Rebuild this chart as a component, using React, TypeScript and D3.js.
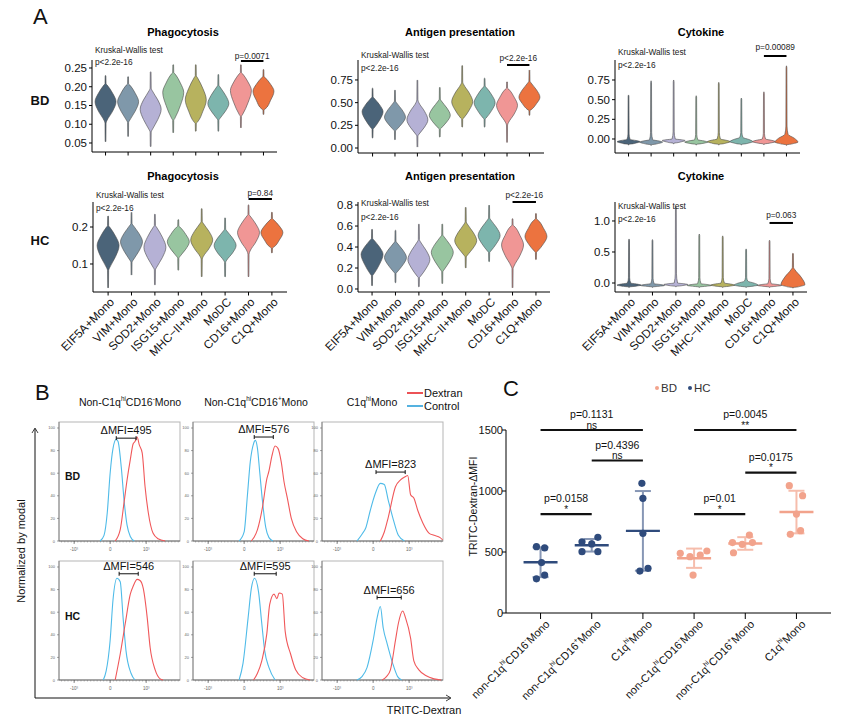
import React from "react";
import * as d3 from "d3";

const FONT = "'Liberation Sans', Arial, Helvetica, sans-serif";

// ---------------- Panel A data ----------------
const cellTypes = ["EIF5A+Mono", "VIM+Mono", "SOD2+Mono", "ISG15+Mono", "MHC\u2212II+Mono", "MoDC", "CD16+Mono", "C1Q+Mono"];
const cellColors = ["#4b6479", "#7f98aa", "#b5b1d5", "#98c5a0", "#b7b25e", "#7db5ad", "#f09695", "#ec733f"];

// violin summary: [min, lower shoulder, mode, upper shoulder, max]
const phagoBD = [
  [0.053, 0.11, 0.16, 0.205, 0.23],
  [0.067, 0.11, 0.16, 0.205, 0.227],
  [0.04, 0.085, 0.14, 0.19, 0.24],
  [0.077, 0.115, 0.185, 0.235, 0.259],
  [0.081, 0.105, 0.165, 0.225, 0.259],
  [0.081, 0.115, 0.155, 0.2, 0.233],
  [0.09, 0.125, 0.19, 0.235, 0.259],
  [0.126, 0.14, 0.188, 0.225, 0.246],
];
const antigenBD = [
  [0.11, 0.22, 0.4, 0.55, 0.66],
  [0.09, 0.2, 0.34, 0.5, 0.64],
  [0.01, 0.15, 0.31, 0.5, 0.75],
  [0.12, 0.22, 0.36, 0.52, 0.67],
  [0.23, 0.33, 0.51, 0.7, 0.91],
  [0.23, 0.33, 0.5, 0.67, 0.77],
  [0.06, 0.28, 0.47, 0.65, 0.73],
  [0.36, 0.42, 0.56, 0.72, 0.86],
];
const cytokineBD = [
  [-0.075, -0.065, -0.035, -0.005, 0.56],
  [-0.08, -0.07, -0.04, -0.01, 0.74],
  [-0.06, -0.05, -0.02, 0.0, 0.75],
  [-0.075, -0.065, -0.04, -0.01, 0.55],
  [-0.075, -0.065, -0.035, 0.0, 0.72],
  [-0.075, -0.065, -0.035, 0.02, 0.52],
  [-0.07, -0.06, -0.035, 0.0, 0.6],
  [-0.08, -0.07, -0.04, 0.06, 0.93],
];
const phagoHC = [
  [0.035, 0.09, 0.15, 0.2, 0.23],
  [0.07, 0.11, 0.16, 0.205, 0.24],
  [0.043, 0.09, 0.145, 0.2, 0.235],
  [0.083, 0.12, 0.16, 0.2, 0.22],
  [0.065, 0.12, 0.165, 0.21, 0.25],
  [0.065, 0.11, 0.15, 0.19, 0.225],
  [0.065, 0.135, 0.185, 0.23, 0.26],
  [0.13, 0.145, 0.185, 0.22, 0.24],
];
const antigenHC = [
  [0.03, 0.14, 0.33, 0.47, 0.57],
  [0.06, 0.16, 0.3, 0.44, 0.56],
  [0.02, 0.12, 0.28, 0.45, 0.62],
  [0.05, 0.18, 0.35, 0.5, 0.62],
  [0.2, 0.32, 0.46, 0.62, 0.78],
  [0.26, 0.36, 0.51, 0.66, 0.8],
  [0.01, 0.22, 0.42, 0.6, 0.67],
  [0.28, 0.36, 0.5, 0.66, 0.72],
];
const cytokineHC = [
  [-0.07, -0.06, -0.035, 0.0, 0.71],
  [-0.07, -0.06, -0.04, -0.01, 0.7],
  [-0.06, -0.05, -0.025, 0.0, 1.23],
  [-0.07, -0.06, -0.04, -0.01, 0.79],
  [-0.07, -0.06, -0.035, 0.0, 0.76],
  [-0.07, -0.06, -0.035, 0.03, 0.55],
  [-0.07, -0.06, -0.04, -0.01, 0.69],
  [-0.08, -0.07, -0.03, 0.22, 0.48],
];

const aPanels = [
  { title: "Phagocytosis", titleX: 183, titleY: 32, data: phagoBD, ax: 92, ar: 277, top: 60, bot: 152, domain: [0.026, 0.2713], ticks: [0.05, 0.1, 0.15, 0.2, 0.25], fmt: ".2f", pad: 0.6, kw: [50, 62], pLabel: "p=0.0071", pBar: 0.2687, pDy: 5, hw: 10.5, labels: false },
  { title: "Antigen presentation", titleX: 460, titleY: 32, data: antigenBD, ax: 358, ar: 544, top: 60, bot: 153, domain: [-0.055, 0.97], ticks: [0, 0.25, 0.5, 0.75], fmt: ".2f", pad: 0.65, kw: [55, 68], pLabel: "p<2.2e-16", pBar: 0.915, pDy: 7, hw: 10.5, labels: false },
  { title: "Cytokine", titleX: 701, titleY: 32, data: cytokineBD, ax: 615, ar: 800, top: 60, bot: 153, domain: [-0.178, 1.004], ticks: [0, 0.25, 0.5, 0.75], fmt: ".2f", pad: 0.6, kw: [52, 65], pLabel: "p=0.00089", pBar: 1.055, pDy: 9, hw: 11.5, labels: false },
  { title: "Phagocytosis", titleX: 183, titleY: 176, data: phagoHC, ax: 93, ar: 287, top: 202, bot: 292, domain: [0.0243, 0.2676], ticks: [0.1, 0.2], fmt: ".1f", pad: 0.645, kw: [195, 208], pLabel: "p=0.84", pBar: 0.2757, pDy: 6, hw: 11, labels: true },
  { title: "Antigen presentation", titleX: 460, titleY: 176, data: antigenHC, ax: 358, ar: 550, top: 202, bot: 292, domain: [-0.0286, 0.829], ticks: [0, 0.2, 0.4, 0.6, 0.8], fmt: ".1f", pad: 0.6, kw: [203, 217], pLabel: "p<2.2e-16", pBar: 0.829, pDy: 7, hw: 11, labels: true },
  { title: "Cytokine", titleX: 701, titleY: 176, data: cytokineHC, ax: 615, ar: 807, top: 202, bot: 292, domain: [-0.145, 1.306], ticks: [0, 0.5, 1.0], fmt: ".1f", pad: 0.6, kw: [206, 219], pLabel: "p=0.063", pBar: 0.968, pDy: 8, hw: 12, labels: true },
];

// ---------------- Panel B data (channel units: 1 = 10^3, percent of max) ----------------
const bdBlue1 = [[-0.28, 0], [-0.17, 5], [-0.08, 25], [0, 60], [0.08, 82], [0.17, 90], [0.22, 88], [0.31, 65], [0.39, 35], [0.47, 14], [0.56, 4], [0.67, 0]];
const bdRed1 = [[0.14, 0], [0.28, 10], [0.39, 35], [0.47, 54], [0.56, 72], [0.64, 86], [0.69, 88], [0.75, 92], [0.81, 85], [0.89, 78], [0.97, 48], [1.06, 25], [1.19, 7], [1.33, 2], [1.53, 0]];
const bdBlue2 = [[-0.14, 0], [0, 8], [0.09, 40], [0.17, 70], [0.26, 86], [0.31, 89], [0.37, 82], [0.43, 62], [0.51, 35], [0.6, 12], [0.69, 3], [0.8, 0]];
const bdRed2 = [[0.2, 0], [0.37, 10], [0.51, 30], [0.63, 55], [0.69, 62], [0.77, 75], [0.86, 84], [0.94, 82], [1.03, 70], [1.11, 52], [1.2, 38], [1.31, 20], [1.46, 8], [1.63, 2], [1.8, 0]];
const bdBlue3 = [[-0.45, 0], [-0.31, 6], [-0.2, 12], [-0.08, 27], [0.06, 42], [0.2, 51], [0.31, 50], [0.42, 36], [0.56, 19], [0.7, 5], [0.87, 0]];
const bdRed3 = [[0.2, 0], [0.31, 8], [0.42, 21], [0.62, 48], [0.76, 54], [0.9, 57], [0.96, 58], [1.04, 41], [1.13, 38], [1.24, 27], [1.38, 16], [1.55, 7], [1.69, 5], [1.86, 3], [1.93, 1]];
const hcBlue1 = [[-0.19, 0], [-0.11, 8], [0, 35], [0.08, 71], [0.19, 90], [0.28, 87], [0.36, 55], [0.44, 26], [0.58, 6], [0.69, 0]];
const hcRed1 = [[0.14, 0], [0.28, 23], [0.42, 50], [0.56, 76], [0.64, 83], [0.75, 89], [0.83, 88], [0.92, 81], [1.03, 55], [1.11, 29], [1.25, 9], [1.39, 1], [1.47, 0]];
const hcBlue2 = [[-0.14, 0], [-0.03, 15], [0.11, 55], [0.2, 81], [0.29, 90], [0.4, 78], [0.49, 50], [0.57, 26], [0.69, 11], [0.86, 0]];
const hcRed2 = [[0.26, 0], [0.37, 6], [0.49, 17], [0.63, 41], [0.71, 67], [0.83, 76], [0.91, 72], [0.97, 77], [1.06, 76], [1.14, 43], [1.29, 23], [1.43, 9], [1.63, 2], [1.83, 0]];
const hcBlue3 = [[-0.45, 0], [-0.31, 3], [-0.17, 11], [0, 35], [0.11, 55], [0.2, 65], [0.28, 46], [0.39, 32], [0.54, 15], [0.68, 3], [0.79, 0]];
const hcRed3 = [[0.25, 0], [0.37, 3], [0.48, 9], [0.62, 35], [0.7, 50], [0.82, 61], [0.9, 55], [1.04, 37], [1.13, 17], [1.27, 9], [1.46, 4], [1.69, 1], [1.89, 0]];

const mfiLabels = ["\u0394MFI=495", "\u0394MFI=576", "\u0394MFI=823", "\u0394MFI=546", "\u0394MFI=595", "\u0394MFI=656"];
// bracket: [from channel, to channel, height %]
const mfiBrackets = [[0.17, 0.72, 91], [0.28, 0.81, 92], [0.08, 0.89, 61], [0.25, 0.78, 94], [0.28, 0.89, 94], [0.11, 0.78, 73]];
const histBlue = [bdBlue1, bdBlue2, bdBlue3, hcBlue1, hcBlue2, hcBlue3];
const histRed = [bdRed1, bdRed2, bdRed3, hcRed1, hcRed2, hcRed3];
const histYTicks = [0, 20, 40, 60, 80, 100];
const histXTicks = [{ v: -1, l: "-10\u00b3" }, { v: 0, l: "0" }, { v: 1, l: "10\u00b3" }];

// ---------------- Panel C data ----------------
const cHCneg = [544, 533, 413, 280, 311];
const cHCpos = [584, 566, 620, 503, 503];
const cHCc1q = [1063, 940, 653, 344, 366];
const cBDneg = [489, 462, 475, 508, 311];
const cBDpos = [577, 563, 577, 639, 494];
const cBDc1q = [1044, 962, 811, 675, 645];
const cValues = [cHCneg, cHCpos, cHCc1q, cBDneg, cBDpos, cBDc1q];
const cCohort = ["HC", "HC", "HC", "BD", "BD", "BD"];
const cJitter = [
  [-0.08, 0.08, 0.02, -0.08, 0.08],
  [-0.19, 0, 0.12, -0.19, 0.12],
  [-0.02, 0, 0, -0.06, 0.1],
  [-0.27, -0.08, 0.12, 0.25, -0.02],
  [-0.25, -0.06, 0.14, 0.08, -0.23],
  [-0.14, 0.12, 0, 0.08, -0.12],
];
const cYTicks = [0, 500, 1000, 1500];
const cComparisons = [
  { a: 0, b: 2, y: 1500, p: "p=0.1131", s: "ns" },
  { a: 1, b: 2, y: 1250, p: "p=0.4396", s: "ns" },
  { a: 0, b: 1, y: 810, p: "p=0.0158", s: "*" },
  { a: 3, b: 5, y: 1500, p: "p=0.0045", s: "**" },
  { a: 4, b: 5, y: 1150, p: "p=0.0175", s: "*" },
  { a: 3, b: 4, y: 810, p: "p=0.01", s: "*" },
];
const cohortColor: Record<string, string> = { HC: "#2f4b7c", BD: "#f2a38c" };
const cohortBar: Record<string, string> = { HC: "#8797b5", BD: "#f6bdac" };

type Part = [string, boolean];
const lblNeg: Part[] = [["non-C1q", false], ["hi", true], ["CD16", false], ["-", true], ["Mono", false]];
const lblPos: Part[] = [["non-C1q", false], ["hi", true], ["CD16", false], ["+", true], ["Mono", false]];
const lblC1q: Part[] = [["C1q", false], ["hi", true], ["Mono", false]];
const cLabels = [lblNeg, lblPos, lblC1q, lblNeg, lblPos, lblC1q];

function SupParts({ parts, size }: { parts: Part[]; size: number }) {
  const out: any[] = [];
  let up = false;
  parts.forEach(([t, sup], i) => {
    let dy = 0;
    if (sup && !up) { dy = -size * 0.38; up = true; }
    else if (!sup && up) { dy = size * 0.38; up = false; }
    out.push(
      <tspan key={i} dy={dy} fontSize={sup ? size * 0.6 : size}>{t}</tspan>
    );
  });
  return <>{out}</>;
}

function violinPath(v: number[], cx: number, y: any, hw: number) {
  const [mn, lo, md, hi, mx] = v;
  const dl = lo - mn, du = mx - hi;
  const knots: [number, number][] = [
    [mn, 0],
    [mn + dl * 0.03, 0.035],
    [lo - dl * 0.12, 0.05],
    [lo, 0.14],
    [(lo + md) / 2, 0.68],
    [md, 1],
    [(md + hi) / 2, 0.68],
    [hi, 0.14],
    [hi + du * 0.12, 0.05],
    [mx - du * 0.03, 0.035],
    [mx, 0],
  ];
  return d3.area<[number, number]>()
    .y((d) => y(d[0]))
    .x0((d) => cx - d[1] * hw)
    .x1((d) => cx + d[1] * hw)
    .curve(d3.curveMonotoneY)(knots) || "";
}

function ViolinPanel({ p }: { p: any }) {
  const y = d3.scaleLinear().domain(p.domain).range([p.bot, p.top]);
  const x = d3.scalePoint<string>().domain(cellTypes).range([p.ax, p.ar]).padding(p.pad);
  const fmt = d3.format(p.fmt);
  const x7 = x(cellTypes[6])!, x8 = x(cellTypes[7])!;
  const by = y(p.pBar);
  return (
    <g>
      <text x={p.titleX} y={p.titleY} textAnchor="middle" dominantBaseline="central" fontWeight="bold" fontSize={11}>{p.title}</text>
      {p.data.map((v: number[], i: number) => (
        <path key={i} d={violinPath(v, x(cellTypes[i])!, y, p.hw)} fill={cellColors[i]} stroke="#4a4a4a" strokeWidth={0.6} />
      ))}
      <line x1={p.ax} x2={p.ax} y1={p.top} y2={p.bot} stroke="#000" strokeWidth={1} />
      <line x1={p.ax} x2={p.ar} y1={p.bot} y2={p.bot} stroke="#000" strokeWidth={1} />
      {p.ticks.map((t: number) => (
        <g key={t}>
          <line x1={p.ax - 3} x2={p.ax} y1={y(t)} y2={y(t)} stroke="#000" />
          <text x={p.ax - 5} y={y(t)} textAnchor="end" dominantBaseline="central" fontSize={11.5} fill="#111">{fmt(t)}</text>
        </g>
      ))}
      {cellTypes.map((c) => (
        <line key={c} x1={x(c)} x2={x(c)} y1={p.bot} y2={p.bot + 3.5} stroke="#000" />
      ))}
      {p.labels && cellTypes.map((c) => (
        <text key={c} transform={`translate(${x(c)! + 4},${p.bot + 8}) rotate(-45)`} textAnchor="end" dominantBaseline="central" fontSize={11.8} fill="#111">{c}</text>
      ))}
      <text x={p.ax + 3} y={p.kw[0]} dominantBaseline="central" fontSize={8.3} fill="#222">Kruskal-Wallis test</text>
      <text x={p.ax + 3} y={p.kw[1]} dominantBaseline="central" fontSize={8.3} fill="#222">p&lt;2.2e-16</text>
      <line x1={x7} x2={x8} y1={by} y2={by} stroke="#000" strokeWidth={2} />
      <text x={(x7 + x8) / 2} y={by - p.pDy} textAnchor="middle" dominantBaseline="central" fontSize={8.3} fill="#222">{p.pLabel}</text>
    </g>
  );
}

const boxX = [59, 193, 322];
const boxY = [422, 561];
const BOX_W = 121, BOX_H = 119;

function HistBox({ idx }: { idx: number }) {
  const row = Math.floor(idx / 3), col = idx % 3;
  const bx = boxX[col], by = boxY[row];
  const x = d3.scaleLinear().domain([-1.42, 1.94]).range([bx, bx + BOX_W]);
  const y = d3.scaleLinear().domain([0, 105.3]).range([by + BOX_H, by]);
  const line = d3.line<number[]>().x((d) => x(d[0])).y((d) => y(d[1])).curve(d3.curveMonotoneX);
  const [b0, b1, bh] = mfiBrackets[idx];
  const minor = d3.range(-1.35, 1.9, 0.09);
  return (
    <g>
      <rect x={bx} y={by} width={BOX_W} height={BOX_H} fill="none" stroke="#b5b5b5" strokeWidth={1} />
      <line x1={bx} x2={bx} y1={by} y2={by + BOX_H} stroke="#777" strokeWidth={0.8} />
      <line x1={bx} x2={bx + BOX_W} y1={by + BOX_H} y2={by + BOX_H} stroke="#555" strokeWidth={0.8} />
      {histYTicks.map((t) => (
        <g key={t}>
          <line x1={bx - 2} x2={bx} y1={y(t)} y2={y(t)} stroke="#666" strokeWidth={0.6} />
          <text x={bx - 4} y={y(t)} textAnchor="end" dominantBaseline="central" fontSize={4} fill="#666">{t}</text>
        </g>
      ))}
      {minor.map((m, i) => (
        <line key={i} x1={x(m)} x2={x(m)} y1={by + BOX_H} y2={by + BOX_H + 1.5} stroke="#777" strokeWidth={0.5} />
      ))}
      {histXTicks.map((t) => (
        <g key={t.l}>
          <line x1={x(t.v)} x2={x(t.v)} y1={by + BOX_H} y2={by + BOX_H + 3} stroke="#555" strokeWidth={0.7} />
          <text x={x(t.v)} y={by + BOX_H + 8} textAnchor="middle" dominantBaseline="central" fontSize={4.5} fill="#666">{t.l}</text>
        </g>
      ))}
      <path d={line(histBlue[idx]) || ""} fill="none" stroke="#4fbbe8" strokeWidth={1.1} />
      <path d={line(histRed[idx]) || ""} fill="none" stroke="#f0585a" strokeWidth={1.1} />
      <line x1={x(b0)} x2={x(b1)} y1={y(bh)} y2={y(bh)} stroke="#111" strokeWidth={1} />
      <line x1={x(b0)} x2={x(b0)} y1={y(bh) - 2} y2={y(bh) + 2} stroke="#111" strokeWidth={1} />
      <line x1={x(b1)} x2={x(b1)} y1={y(bh) - 2} y2={y(bh) + 2} stroke="#111" strokeWidth={1} />
      <text x={(x(b0) + x(b1)) / 2} y={y(bh) - 8} textAnchor="middle" dominantBaseline="central" fontSize={11} fill="#111">{mfiLabels[idx]}</text>
    </g>
  );
}

function PanelB() {
  return (
    <g>
      <text x={35} y={400} fontSize={22} fill="#111">B</text>
      <text x={130} y={402} textAnchor="middle" dominantBaseline="central" fontSize={10.5} fill="#111"><SupParts parts={[["Non-C1q", false], ["hi", true], ["CD16", false], ["-", true], ["Mono", false]]} size={10.5} /></text>
      <text x={256} y={402} textAnchor="middle" dominantBaseline="central" fontSize={10.5} fill="#111"><SupParts parts={[["Non-C1q", false], ["hi", true], ["CD16", false], ["+", true], ["Mono", false]]} size={10.5} /></text>
      <text x={372} y={402} textAnchor="middle" dominantBaseline="central" fontSize={10.5} fill="#111"><SupParts parts={lblC1q} size={10.5} /></text>
      <line x1={407} x2={423} y1={393} y2={393} stroke="#e8262b" strokeWidth={1.6} />
      <text x={424} y={393} dominantBaseline="central" fontSize={11} fill="#111">Dextran</text>
      <line x1={407} x2={423} y1={406} y2={406} stroke="#2a9fd8" strokeWidth={1.6} />
      <text x={424} y={406} dominantBaseline="central" fontSize={11} fill="#111">Control</text>
      {[0, 1, 2, 3, 4, 5].map((i) => <HistBox key={i} idx={i} />)}
      <text x={65} y={476} dominantBaseline="central" fontSize={10.5} fontWeight="bold" fill="#111">BD</text>
      <text x={65} y={616} dominantBaseline="central" fontSize={10.5} fontWeight="bold" fill="#111">HC</text>
      <line x1={35} x2={35} y1={698} y2={429} stroke="#111" strokeWidth={1} />
      <path d="M32,433 L35,428 L38,433" fill="none" stroke="#111" strokeWidth={0.8} />
      <line x1={35} x2={450} y1={698} y2={698} stroke="#111" strokeWidth={1} />
      <path d="M446,695 L451,698 L446,701" fill="none" stroke="#111" strokeWidth={0.8} />
      <text transform="translate(21,551) rotate(-90)" textAnchor="middle" dominantBaseline="central" fontSize={11} fill="#111">Normalized by modal</text>
      <text x={424} y={710} textAnchor="middle" dominantBaseline="central" fontSize={11} fill="#111">TRITC-Dextran</text>
    </g>
  );
}

function PanelC() {
  const ax = 506, ar = 831, top = 430, bot = 613;
  const y = d3.scaleLinear().domain([0, 1500]).range([bot, top]);
  const x = d3.scalePoint<number>().domain(d3.range(6)).range([ax, ar]).padding(0.675);
  const step = x.step();
  return (
    <g>
      <text x={503} y={396} fontSize={22} fill="#111">C</text>
      <circle cx={657} cy={388} r={2} fill={cohortColor.BD} />
      <text x={661} y={388} dominantBaseline="central" fontSize={11.5} fill="#333">BD</text>
      <circle cx={690} cy={388} r={2} fill={cohortColor.HC} />
      <text x={694} y={388} dominantBaseline="central" fontSize={11.5} fill="#333">HC</text>
      <line x1={ax} x2={ax} y1={top} y2={bot} stroke="#000" />
      <line x1={ax} x2={ar} y1={bot} y2={bot} stroke="#000" />
      {cYTicks.map((t) => (
        <g key={t}>
          <line x1={ax - 4} x2={ax} y1={y(t)} y2={y(t)} stroke="#000" />
          <text x={ax - 3} y={y(t)} textAnchor="end" dominantBaseline="central" fontSize={11} fill="#111">{t}</text>
        </g>
      ))}
      <text transform={`translate(473,${(top + bot) / 2 - 15}) rotate(-90)`} textAnchor="middle" dominantBaseline="central" fontSize={10.5} fill="#111">TRITC-Dextran-{"\u0394"}MFI</text>
      {cValues.map((vals, g) => {
        const cx = x(g)!;
        const m = d3.mean(vals)!;
        const sd = d3.deviation(vals)!;
        const col = cohortColor[cCohort[g]];
        const bc = cohortBar[cCohort[g]];
        return (
          <g key={g}>
            <line x1={cx} x2={cx} y1={y(m - sd)} y2={y(m + sd)} stroke={bc} strokeWidth={2} />
            <line x1={cx - 8} x2={cx + 8} y1={y(m - sd)} y2={y(m - sd)} stroke={bc} strokeWidth={2} />
            <line x1={cx - 8} x2={cx + 8} y1={y(m + sd)} y2={y(m + sd)} stroke={bc} strokeWidth={2} />
            {vals.map((v, i) => (
              <circle key={i} cx={cx + cJitter[g][i] * step} cy={y(v)} r={3.6} fill={col} />
            ))}
            <line x1={cx - 17} x2={cx + 17} y1={y(m)} y2={y(m)} stroke={col} strokeWidth={2.4} />
            <line x1={cx} x2={cx} y1={bot} y2={bot + 6} stroke="#000" />
            <text transform={`translate(${cx + 7},${bot + 9}) rotate(-45)`} textAnchor="end" dominantBaseline="central" fontSize={11} fill="#111"><SupParts parts={cLabels[g]} size={11} /></text>
          </g>
        );
      })}
      {cComparisons.map((c, i) => {
        const x1 = x(c.a)!, x2 = x(c.b)!, yy = y(c.y);
        return (
          <g key={i}>
            <line x1={x1} x2={x2} y1={yy} y2={yy} stroke="#111" strokeWidth={2.2} />
            <text x={(x1 + x2) / 2} y={yy - 12} textAnchor="middle" fontSize={10.5} fill="#111">{c.p}</text>
            <text x={(x1 + x2) / 2} y={yy - 1.5} textAnchor="middle" fontSize={10} fill="#111">{c.s}</text>
          </g>
        );
      })}
    </g>
  );
}

export default function App() {
  return (
    <div style={{ position: "absolute", left: 0, top: 0, width: 846, height: 722, background: "#fff" }}>
      <svg width={846} height={722} style={{ display: "block", fontFamily: FONT }}>
        <rect width={846} height={722} fill="#fff" />
        <text x={33} y={24} fontSize={22} fill="#111">A</text>
        <text x={40} y={100} textAnchor="middle" dominantBaseline="central" fontSize={13} fontWeight="bold" fill="#111">BD</text>
        <text x={40} y={240} textAnchor="middle" dominantBaseline="central" fontSize={13} fontWeight="bold" fill="#111">HC</text>
        {aPanels.map((p, i) => <ViolinPanel key={i} p={p} />)}
        <PanelB />
        <PanelC />
      </svg>
    </div>
  );
}
